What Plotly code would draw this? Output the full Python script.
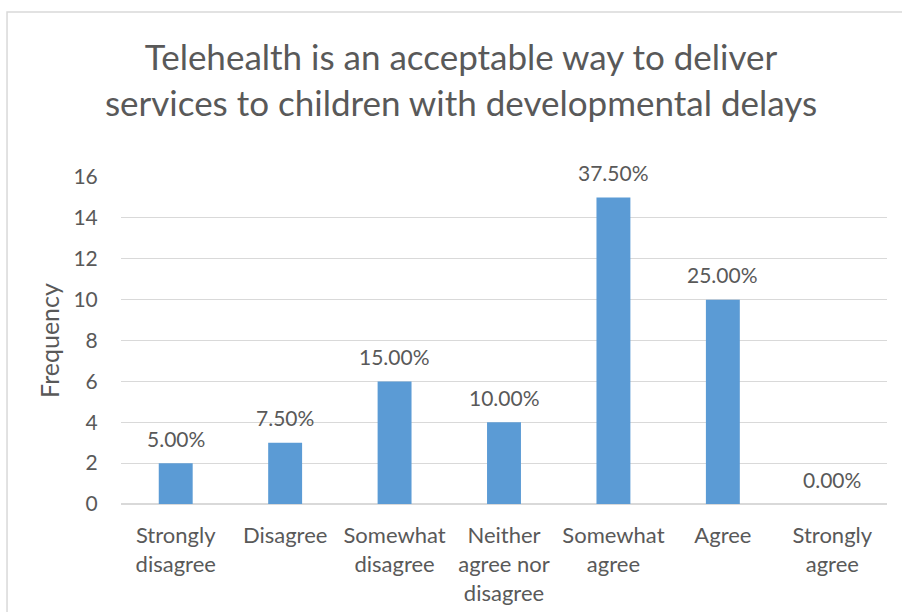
import plotly.graph_objects as go

# Survey responses
categories = ["Strongly disagree", "Disagree", "Somewhat disagree",
              "Neither agree nor disagree", "Somewhat agree", "Agree", "Strongly agree"]
tick_labels = ["Strongly<br>disagree", "Disagree", "Somewhat<br>disagree",
               "Neither<br>agree nor<br>disagree", "Somewhat<br>agree", "Agree", "Strongly<br>agree"]
frequency = [2, 3, 6, 4, 15, 10, 0]
y_ticks = [0, 2, 4, 6, 8, 10, 12, 14, 16]

total = sum(frequency)
percent_labels = [f"{v / total * 100:.2f}%" for v in frequency]

FONT = "Lato"
TEXT = "#595959"
GRID = "#d9d9d9"
BAR = "#5b9bd5"

fig = go.Figure(go.Bar(
    x=categories, y=frequency, marker=dict(color=BAR, line=dict(width=0)),
    width=0.31, hoverinfo="x+y",
))

for cat, val, lab in zip(categories, frequency, percent_labels):
    fig.add_annotation(x=cat, y=val, text=lab, showarrow=False, yanchor="middle",
                       yshift=25, font=dict(family=FONT, size=21, color=TEXT))

# light frame around the whole chart area
fig.add_shape(type="rect", xref="paper", yref="paper",
              x0=-0.1488, x1=1.06, y0=-0.4, y1=1.5046,
              line=dict(color=GRID, width=1.5), fillcolor="rgba(0,0,0,0)", layer="below")

fig.update_layout(
    width=902, height=612,
    margin=dict(l=121, r=15, t=177, b=108),
    paper_bgcolor="white", plot_bgcolor="white",
    showlegend=False,
    title=dict(text="Telehealth is an acceptable way to deliver<br>services to children with developmental delays",
               x=461 / 902, xanchor="center", xref="container", y=1 - 70 / 612, yanchor="middle",
               font=dict(family=FONT, size=35, color=TEXT)),
    xaxis=dict(tickmode="array", tickvals=categories, ticktext=tick_labels,
               tickfont=dict(family=FONT, size=22, color=TEXT),
               showgrid=False, showline=False, ticks="outside", ticklen=12, tickcolor="white",
               automargin=False, fixedrange=True),
    yaxis=dict(range=[0, 16], tickvals=y_ticks, showgrid=True, gridcolor=GRID, gridwidth=1,
               zeroline=True, zerolinecolor=GRID, zerolinewidth=1.5,
               tickfont=dict(family=FONT, size=21, color=TEXT),
               ticks="outside", ticklen=18, tickcolor="white",
               title=dict(text="Frequency", font=dict(family=FONT, size=25, color=TEXT), standoff=6),
               automargin=False, fixedrange=True),
)

fig.write_html("out.html")
